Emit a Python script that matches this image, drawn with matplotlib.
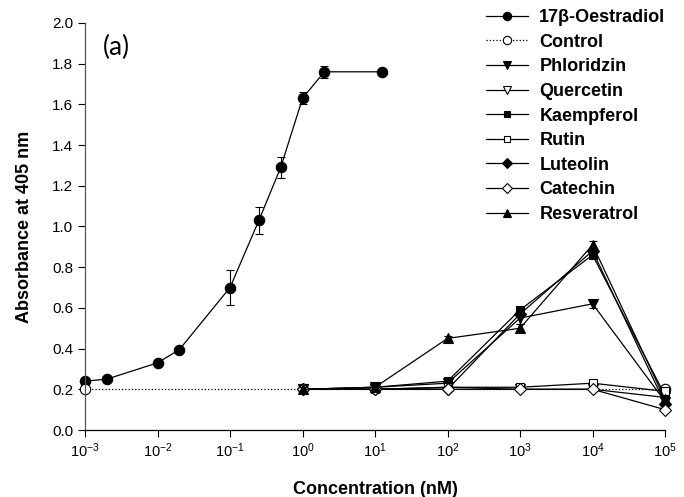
import matplotlib
matplotlib.use("Agg")
import matplotlib.pyplot as plt
from matplotlib.lines import Line2D
from matplotlib.ticker import FixedLocator, LogFormatterSciNotation, NullLocator

plt.rcParams["font.family"] = ["Liberation Sans", "DejaVu Sans"]
plt.rcParams["mathtext.fontset"] = "custom"
plt.rcParams["mathtext.rm"] = "Liberation Sans"
plt.rcParams["mathtext.default"] = "regular"
plt.rcParams["axes.unicode_minus"] = False

# --- datos ---
conc_e2 = [0.001, 0.002, 0.01, 0.02, 0.1, 0.25, 0.5, 1, 2, 12.5]
abs_e2 = [0.24, 0.25, 0.33, 0.395, 0.70, 1.03, 1.29, 1.63, 1.76, 1.76]
err_e2 = [0.01, 0.01, 0.01, 0.01, 0.087, 0.065, 0.05, 0.03, 0.03, 0.01]

conc_control = [0.001, 100000]
abs_control = [0.20, 0.20]

conc = [1, 10, 100, 1000, 10000, 100000]
abs_phloridzin = [0.20, 0.21, 0.23, 0.55, 0.62, 0.14]
abs_quercetin = [0.20, 0.20, 0.21, 0.20, 0.20, 0.16]
abs_kaempferol = [0.20, 0.21, 0.24, 0.59, 0.86, 0.17]
abs_rutin = [0.20, 0.20, 0.21, 0.21, 0.23, 0.19]
abs_luteolin = [0.20, 0.20, 0.20, 0.57, 0.88, 0.13]
abs_catechin = [0.20, 0.20, 0.20, 0.20, 0.20, 0.10]
abs_resveratrol = [0.20, 0.21, 0.45, 0.50, 0.91, 0.15]
err_phloridzin = [0.01, 0.01, 0.01, 0.03, 0.02, 0.01]
err_resveratrol = [0.01, 0.01, 0.01, 0.02, 0.02, 0.01]

x_ticks = [0.001, 0.01, 0.1, 1, 10, 100, 1000, 10000, 100000]
y_ticks = [0.0, 0.2, 0.4, 0.6, 0.8, 1.0, 1.2, 1.4, 1.6, 1.8, 2.0]

series = [
    ("17\u03b2-Oestradiol", conc_e2, abs_e2, err_e2, "o", "black", "-"),
    ("Control", conc_control, abs_control, None, "o", "white", ":"),
    ("Phloridzin", conc, abs_phloridzin, err_phloridzin, "v", "black", "-"),
    ("Quercetin", conc, abs_quercetin, None, "v", "white", "-"),
    ("Kaempferol", conc, abs_kaempferol, None, "s", "black", "-"),
    ("Rutin", conc, abs_rutin, None, "s", "white", "-"),
    ("Luteolin", conc, abs_luteolin, None, "D", "black", "-"),
    ("Catechin", conc, abs_catechin, None, "D", "white", "-"),
    ("Resveratrol", conc, abs_resveratrol, err_resveratrol, "^", "black", "-"),
]

fig = plt.figure(figsize=(6.84, 4.97), dpi=100)
ax = fig.add_axes([0.1243, 0.1348, 0.848, 0.819])

lw = 0.9
sizes = {"o": 7.5, "v": 7, "^": 7, "s": 6.2, "D": 6.2}

handles = []
for nombre, xs, ys, err, mk, fc, ls in series:
    ms = sizes[mk]
    if err is not None:
        ax.errorbar(xs, ys, yerr=err, fmt="none", ecolor="black", elinewidth=0.8,
                    capsize=3, capthick=0.8, clip_on=False)
    ax.plot(xs, ys, linestyle=ls, color="black", linewidth=lw, marker=mk, markersize=ms,
            markerfacecolor=fc, markeredgecolor="black", markeredgewidth=0.8, clip_on=False)
    handles.append(Line2D([], [], linestyle=ls, color="black", linewidth=lw, marker=mk,
                          markersize=ms - 1.5, markerfacecolor=fc, markeredgecolor="black",
                          markeredgewidth=0.8, label=nombre))

ax.set_xscale("log")
ax.set_xlim(0.001, 100000)
ax.set_ylim(0, 2.0)
ax.set_yticks(y_ticks)
ax.set_yticklabels([f"{v:.1f}" for v in y_ticks])
ax.xaxis.set_major_locator(FixedLocator(x_ticks))
ax.xaxis.set_major_formatter(LogFormatterSciNotation())
ax.xaxis.set_minor_locator(NullLocator())

for s in ["top", "right"]:
    ax.spines[s].set_visible(False)
for s in ["left", "bottom"]:
    ax.spines[s].set_linewidth(0.9)
ax.spines["left"].set_color("#555555")
ax.tick_params(axis="both", direction="out", length=5, width=0.8)
ax.tick_params(axis="y", labelsize=11)
ax.tick_params(axis="x", labelsize=10.5, pad=3)

ax.set_xlabel("Concentration (nM)", fontsize=13, fontweight="bold", labelpad=15)
ax.set_ylabel("Absorbance at 405 nm", fontsize=13, fontweight="bold", labelpad=14)

ax.text(0.031, 0.94, "(a)", transform=ax.transAxes, fontsize=19, family=["Lato", "DejaVu Sans"],
        ha="left", va="center")

fig.legend(handles=handles, loc="upper left", bbox_to_anchor=(0.700, 0.996), frameon=False,
           prop={"weight": "bold", "size": 13}, handlelength=2.35, handletextpad=0.6,
           labelspacing=0.42, borderaxespad=0)

fig.savefig("out.png", dpi=100)
